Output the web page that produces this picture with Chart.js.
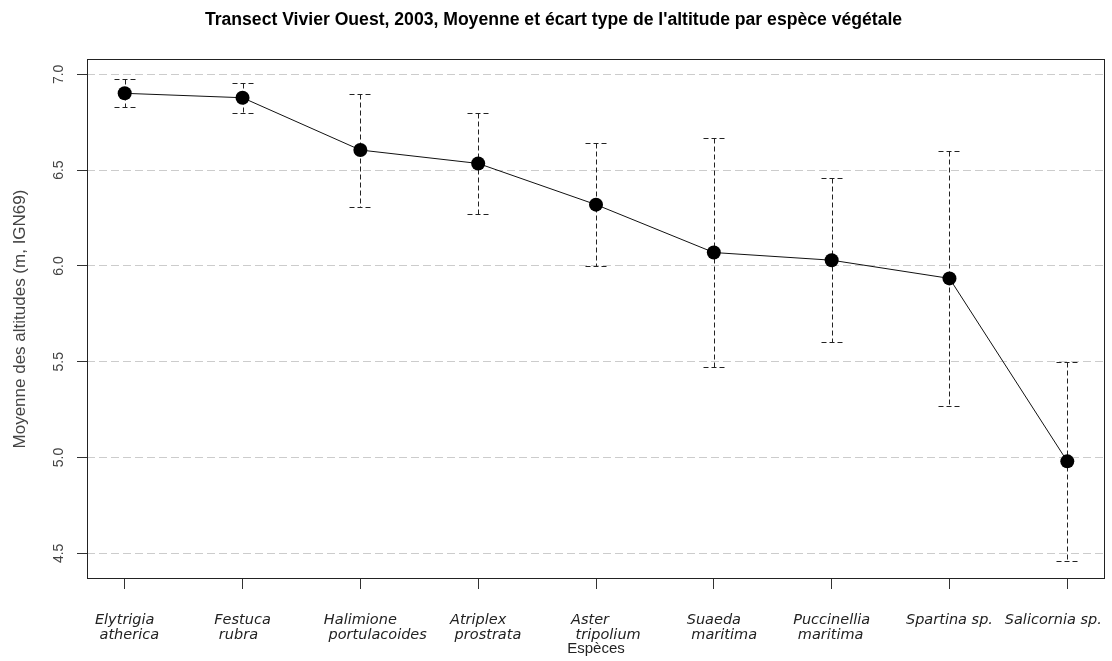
<!DOCTYPE html>
<html>
<head>
<meta charset="utf-8">
<script src="https://cdn.jsdelivr.net/npm/chart.js@4/dist/chart.umd.min.js"></script>
<style>
  html, body { margin: 0; padding: 0; background: #ffffff; }
  #wrap { width: 1112px; height: 661px; }
</style>
</head>
<body>
<div id="wrap"><canvas id="c" width="1112" height="661"></canvas></div>
<script>
// Species along the transect (label lines as printed under each tick)
const speciesLines = [
  ['Elytrigia', ' atherica'],
  ['Festuca', ' rubra'],
  ['Halimione', ' portulacoides'],
  ['Atriplex', ' prostrata'],
  ['Aster', ' tripolium'],
  ['Suaeda', ' maritima'],
  ['Puccinellia', ' maritima'],
  ['Spartina sp.'],
  ['Salicornia sp.']
];

// Mean altitude (m, IGN69) and standard deviation per species
const meanAltitude = [6.901, 6.878, 6.605, 6.535, 6.320, 6.070, 6.030, 5.935, 4.980];
const sdAltitude   = [0.073, 0.078, 0.295, 0.265, 0.322, 0.600, 0.428, 0.665, 0.520];

// Y axis ticks
const yTickValues = [4.5, 5.0, 5.5, 6.0, 6.5, 7.0];
const yTickLabels = ['4.5', '5.0', '5.5', '6.0', '6.5', '7.0'];

const chartTitle = "Transect Vivier Ouest, 2003, Moyenne et écart type de l'altitude par espèce végétale";
const yTitle = 'Moyenne des altitudes (m, IGN69)';
const xTitle = 'Espèces';

// Horizontal nudges for the species labels (px)
const labelNudge = [0, 0, 0, 0, -6, 0, 0, 0, -14];

// Dashed error bars (mean ± sd) with caps
const errorBarPlugin = {
  id: 'errorBars',
  beforeDatasetsDraw(chart) {
    const { ctx, scales: { x, y } } = chart;
    ctx.save();
    ctx.strokeStyle = '#222';
    ctx.lineWidth = 1;
    ctx.setLineDash([5, 3]);
    const cap = 11;
    meanAltitude.forEach((m, i) => {
      const px = Math.round(x.getPixelForValue(i)) + 0.5;
      const top = Math.round(y.getPixelForValue(m + sdAltitude[i])) + 0.5;
      const bot = Math.round(y.getPixelForValue(m - sdAltitude[i])) + 0.5;
      ctx.beginPath();
      ctx.moveTo(px, top); ctx.lineTo(px, bot);
      ctx.moveTo(px - cap, top); ctx.lineTo(px + cap, top);
      ctx.moveTo(px - cap, bot); ctx.lineTo(px + cap, bot);
      ctx.stroke();
    });
    ctx.restore();
  }
};

// Plot frame and species labels
const framePlugin = {
  id: 'frame',
  afterDraw(chart) {
    const { ctx, chartArea: a, scales: { x } } = chart;
    ctx.save();
    ctx.strokeStyle = '#222';
    ctx.lineWidth = 1;
    ctx.setLineDash([]);
    ctx.strokeRect(Math.round(a.left) + 0.5, Math.round(a.top) + 0.5,
                   Math.round(a.right - a.left) - 1, Math.round(a.bottom - a.top) - 1);

    ctx.fillStyle = '#222';
    ctx.font = 'italic 14.5px "DejaVu Sans"';
    ctx.textAlign = 'left';
    ctx.textBaseline = 'middle';
    speciesLines.forEach((lines, i) => {
      const px = x.getPixelForValue(i);
      const w = ctx.measureText(lines[0]).width;
      const left = px - w / 2 + labelNudge[i];
      lines.forEach((t, k) => {
        ctx.fillText(t, left, a.bottom + 41 + k * 15);
      });
    });
    ctx.restore();
  }
};

new Chart(document.getElementById('c'), {
  type: 'line',
  data: {
    datasets: [{
      data: meanAltitude.map((m, i) => ({ x: i, y: m })),
      borderColor: '#111',
      borderWidth: 1,
      tension: 0,
      pointRadius: 7,
      pointBackgroundColor: '#000',
      pointBorderColor: '#000',
      pointBorderWidth: 0,
      clip: false
    }]
  },
  options: {
    responsive: false,
    animation: false,
    devicePixelRatio: 1,
    layout: { padding: { left: 0, right: 5, top: 0, bottom: 0 } },
    plugins: {
      legend: { display: false },
      tooltip: { enabled: false },
      title: {
        display: true,
        text: chartTitle,
        color: '#000',
        font: { family: 'Liberation Sans', size: 17.6, weight: 'bold' },
        padding: { top: 10, bottom: 27.9 }
      }
    },
    scales: {
      x: {
        type: 'linear',
        min: -0.32,
        max: 8.32,
        afterBuildTicks(s) { s.ticks = speciesLines.map((_, i) => ({ value: i })); },
        ticks: { display: false },
        grid: { display: true, drawOnChartArea: false, drawTicks: true, tickLength: 10, color: '#333', tickColor: '#333' },
        border: { display: false },
        title: {
          display: true,
          text: xTitle,
          color: '#222',
          font: { family: 'Liberation Sans', size: 15 },
          padding: { top: 0, bottom: 3 }
        },
        afterFit(s) { s.height = 82; s.paddingLeft = 0; s.paddingRight = 0; }
      },
      y: {
        min: 4.366,
        max: 7.08,
        afterBuildTicks(s) { s.ticks = yTickValues.map(v => ({ value: v })); },
        ticks: {
          callback: (v, i) => yTickLabels[i],
          minRotation: 90,
          maxRotation: 90,
          crossAlign: 'center',
          padding: 8,
          color: '#444',
          font: { family: 'Liberation Sans', size: 14 }
        },
        grid: { color: '#cccccc', lineWidth: 1, tickColor: '#333', tickLength: 10, drawTicks: true },
        border: { display: false, dash: [8, 4] },
        title: {
          display: true,
          text: yTitle,
          color: '#444',
          font: { family: 'Liberation Sans', size: 17 },
          padding: { top: 10, bottom: 0 }
        },
        afterFit(s) { s.width = 87; }
      }
    }
  },
  plugins: [errorBarPlugin, framePlugin]
});
</script>
</body>
</html>
